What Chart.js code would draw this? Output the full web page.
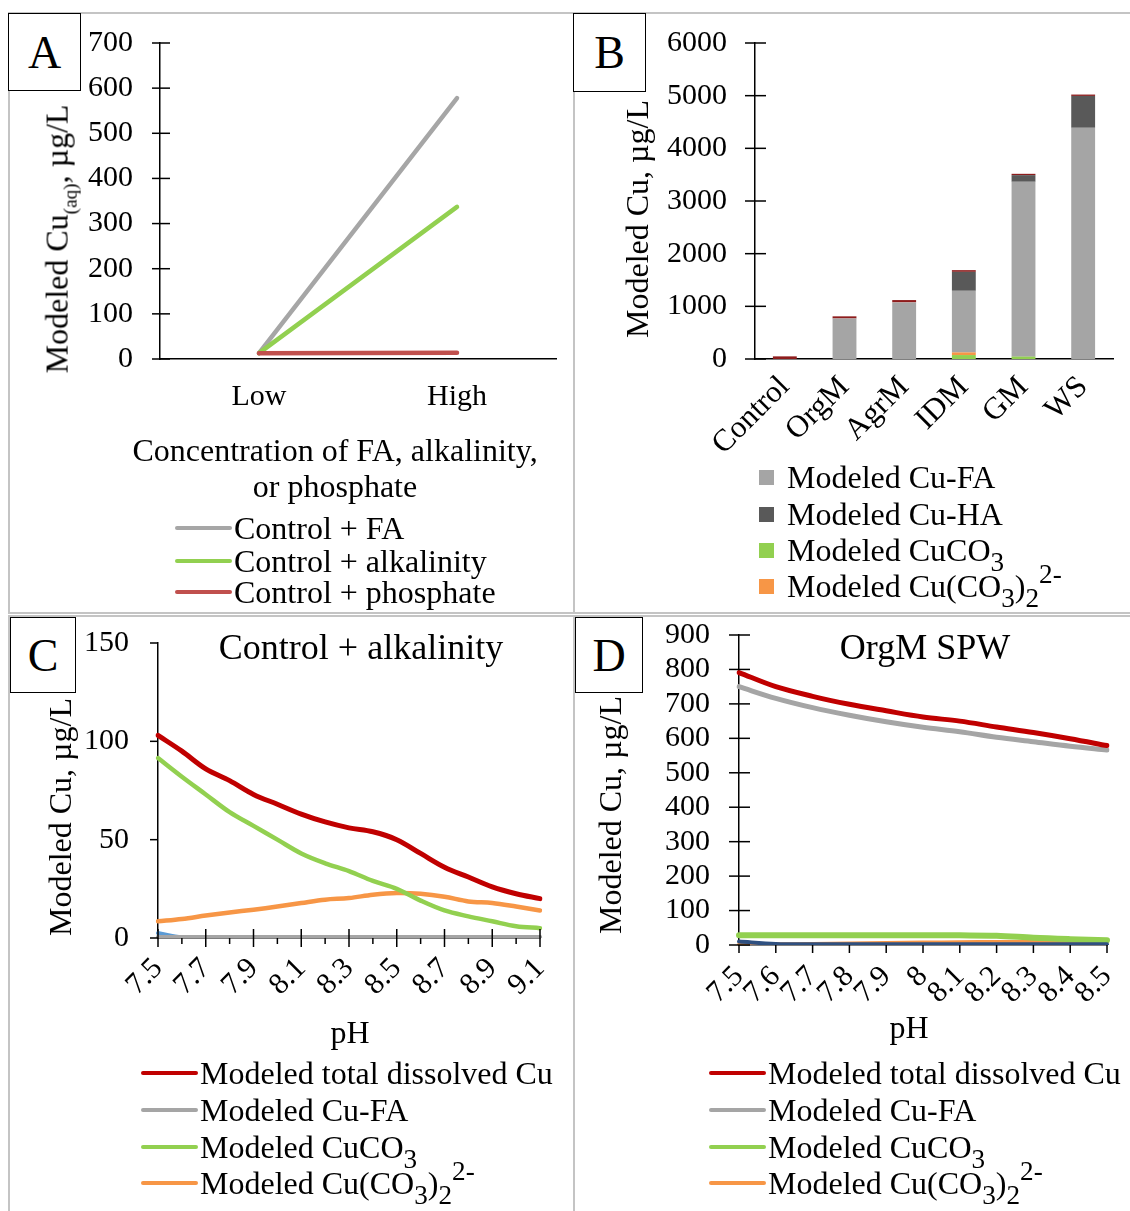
<!DOCTYPE html>
<html>
<head>
<meta charset="utf-8">
<title>Modeled Cu speciation</title>
<script src="https://cdn.jsdelivr.net/npm/chart.js@4.4.0/dist/chart.umd.min.js"></script>
<style>
  body { margin: 0; width: 1130px; height: 1211px; position: relative; overflow: hidden; background: #fff;
         font-family: "Liberation Serif", "Times New Roman", serif; color: #000; }
  .panel { position: absolute; border: 2px solid #c4c4c4; box-sizing: border-box; }
  canvas { position: absolute; }
  .tag { position: absolute; border: 1.5px solid #000; background: #fff; box-sizing: border-box;
         font-size: 46px; display: flex; align-items: center; justify-content: center; z-index: 2; }
  .ytitle { position: absolute; white-space: nowrap; font-size: 32px; line-height: 1;
            transform: translate(-50%, -50%) rotate(-90deg); }
  .ctext { position: absolute; white-space: nowrap; font-size: 32px; line-height: 1;
           transform: translate(-50%, -50%); }
  .title { font-size: 36px; }
  .row { position: absolute; white-space: nowrap; font-size: 32px; line-height: 1;
         transform: translateY(-50%); display: flex; align-items: center; }
  .row i { display: inline-block; }
  sub { font-size: 0.85em; vertical-align: -0.35em; line-height: 0; }
  sup { font-size: 0.85em; vertical-align: 0.5em; line-height: 0; }
  .aq { font-size: 0.6em; vertical-align: -0.45em; }
</style>
</head>
<body>

<div class="panel" style="left:8px;top:12px;width:567px;height:602px"></div>
<div class="panel" style="left:573px;top:12px;width:600px;height:602px"></div>
<div class="panel" style="left:8px;top:615px;width:567px;height:620px"></div>
<div class="panel" style="left:573px;top:615px;width:600px;height:620px"></div>

<canvas id="chartA" width="566" height="601" style="left:8px;top:12px"></canvas>
<canvas id="chartB" width="556" height="601" style="left:574px;top:12px"></canvas>
<canvas id="chartC" width="566" height="596" style="left:8px;top:615px"></canvas>
<canvas id="chartD" width="556" height="596" style="left:574px;top:615px"></canvas>

<div class="tag" style="left:8px;top:13px;width:73px;height:78px">A</div>
<div class="tag" style="left:573px;top:13px;width:73px;height:79px">B</div>
<div class="tag" style="left:10px;top:617px;width:66px;height:76px">C</div>
<div class="tag" style="left:575px;top:617px;width:68px;height:76px">D</div>

<div class="ytitle" style="left:60px;top:239px">Modeled Cu<span class="aq">(aq)</span>, µg/L</div>
<div class="ytitle" style="left:637px;top:219px">Modeled Cu, µg/L</div>
<div class="ytitle" style="left:60px;top:817px">Modeled Cu, µg/L</div>
<div class="ytitle" style="left:610px;top:815px">Modeled Cu, µg/L</div>

<div class="ctext" style="left:335px;top:450px">Concentration of FA, alkalinity,</div>
<div class="ctext" style="left:335px;top:486px">or phosphate</div>
<div class="ctext title" style="left:361px;top:647px">Control + alkalinity</div>
<div class="ctext title" style="left:925px;top:647px">OrgM SPW</div>
<div class="ctext" style="left:350px;top:1032px">pH</div>
<div class="ctext" style="left:909px;top:1027px">pH</div>

<script>
// ── Panel A: Cu(aq) vs concentration level ──
const A_LEVELS = ['Low', 'High'];
const A_FA     = [13, 578];
const A_ALK    = [13, 337];
const A_PHOS   = [13, 14];

// ── Panel B: stacked species by site ──
const B_SITES   = ['Control', 'OrgM', 'AgrM', 'IDM', 'GM', 'WS'];
const B_CUCO3   = [0, 0, 0, 75, 45, 0];
const B_CUCO3_2 = [0, 0, 0, 50, 0, 0];
const B_CUFA    = [0, 770, 1075, 1170, 3320, 4390];
const B_CUHA    = [0, 0, 0, 360, 126, 605];
const B_OTHER   = [50, 40, 44, 32, 25, 26];

// ── Panel C: Control + alkalinity vs pH ──
const C_PH      = ['7.5', '7.6', '7.7', '7.8', '7.9', '8.0', '8.1', '8.2', '8.3', '8.4', '8.5', '8.6', '8.7', '8.8', '8.9', '9.0', '9.1'];
const C_TOTAL   = [103, 95, 86, 80, 73, 68, 63, 59, 56, 54, 50, 43, 36, 31, 26, 22.5, 20];
const C_CUFA    = [0.4, 0.4, 0.4, 0.4, 0.4, 0.4, 0.4, 0.4, 0.4, 0.4, 0.4, 0.4, 0.4, 0.4, 0.4, 0.4, 0.4];
const C_CUCO3   = [91.5, 82, 73, 64, 57, 50, 43, 38, 34, 29, 25, 19, 14, 11, 8.5, 6, 5];
const C_CUCO3_2 = [8.5, 9.7, 11.4, 13, 14.4, 16, 17.8, 19.5, 20.3, 22, 22.9, 22.5, 21, 18.6, 17.8, 16, 14];
const C_FREE    = [2.5, 0.4, 0.2, 0.1, 0.1, 0.1, 0.1, 0.1, 0.1, 0.1, 0.1, 0.1, 0.1, 0.1, 0.1, 0.1, 0.1];

// ── Panel D: OrgM SPW vs pH ──
const D_PH      = ['7.5', '7.6', '7.7', '7.8', '7.9', '8', '8.1', '8.2', '8.3', '8.4', '8.5'];
const D_TOTAL   = [791, 750, 722, 699, 680, 662, 650, 633, 617, 599, 579];
const D_CUFA    = [750, 716, 689, 667, 648, 632, 619, 603, 590, 577, 566];
const D_CUCO3   = [28, 28, 28, 28, 28, 28, 28, 27, 21, 17, 14];
const D_CUCO3_2 = [1, 2, 3, 4, 6, 7, 8, 9, 9, 10, 10];
const D_FREE    = [10, 3, 2, 2, 2, 2, 2, 2, 2, 2, 2];

const FONT = '"Liberation Serif", "Times New Roman", serif';
Chart.defaults.font.family = FONT;
Chart.defaults.color = '#000';

// Excel-style tick marks (can cross the axis line)
const tickMarks = {
  id: 'tickMarks',
  afterDatasetsDraw(chart, args, opts) {
    const ctx = chart.ctx;
    ctx.save();
    ctx.strokeStyle = '#000';
    ctx.lineWidth = 1.5;
    ['x', 'y'].forEach(id => {
      const o = opts[id];
      if (!o) return;
      const s = chart.scales[id];
      s.ticks.forEach((t, i) => {
        const major = !o.every || i % o.every === 0;
        const inn = major ? o.in : (o.minorIn || 0);
        const out = major ? o.out : (o.minorOut || 0);
        const p = s.getPixelForTick(i);
        ctx.beginPath();
        if (id === 'y') { ctx.moveTo(s.right - out, p); ctx.lineTo(s.right + inn, p); }
        else { ctx.moveTo(p, s.top - inn); ctx.lineTo(p, s.top + out); }
        ctx.stroke();
      });
    });
    ctx.restore();
  }
};

function yAxis(max, step, width, pad, stacked) {
  return {
    min: 0, max, stacked: !!stacked,
    ticks: { stepSize: step, padding: pad, font: { size: 30 }, color: '#000', autoSkip: false,
             callback: v => String(v) },
    grid: { display: false, drawTicks: false },
    border: { color: '#000', width: 1.5 },
    afterFit: s => { s.width = width; s.paddingTop = 0; s.paddingBottom = 0; }
  };
}

function xAxis(height, pad, rotate, extra) {
  return Object.assign({
    ticks: { padding: pad, font: { size: 30 }, color: '#000', autoSkip: false,
             minRotation: rotate, maxRotation: rotate },
    grid: { display: false, drawTicks: false },
    border: { color: '#000', width: 1.5 },
    afterFit: s => { s.height = height; s.paddingLeft = 0; s.paddingRight = 0; }
  }, extra || {});
}

function baseOptions(padRight, padTop, marks) {
  return {
    responsive: false, animation: false, devicePixelRatio: 1,
    layout: { padding: { left: 0, right: padRight, top: padTop, bottom: 0 } },
    plugins: { legend: { display: false }, tooltip: { enabled: false }, tickMarks: marks },
    elements: { point: { radius: 0 } }
  };
}

function line(label, data, color, width, tension) {
  return { label, data, borderColor: color, backgroundColor: color, borderWidth: width,
           tension: tension, pointRadius: 0, borderCapStyle: 'round', borderJoinStyle: 'round', fill: false };
}

//  Panel A 
const optsA = baseOptions(18, 31, { y: { out: 8, in: 10 } });
optsA.scales = {
  x: xAxis(254, 20, 0, { offset: true }),
  y: yAxis(700, 100, 152, 27)
};
const chartA = new Chart(document.getElementById('chartA'), {
  type: 'line',
  plugins: [tickMarks],
  data: {
    labels: A_LEVELS,
    datasets: [
      line('Control + phosphate', A_PHOS, '#c0504d', 4.5, 0),
      line('Control + alkalinity', A_ALK, '#92d050', 4.5, 0),
      line('Control + FA', A_FA, '#a6a6a6', 4.5, 0)
    ]
  },
  options: optsA
});

//  Panel B 
const optsB = baseOptions(17, 31, { y: { out: 10, in: 11 } });
optsB.scales = {
  x: xAxis(254, 10, 45, { stacked: true }),
  y: yAxis(6000, 1000, 181, 28, true)
};
optsB.scales.x.ticks.font = { size: 31 };
function bar(label, data, color) {
  return { label, data, backgroundColor: color, borderWidth: 0, barPercentage: 0.4, categoryPercentage: 1 };
}
const chartB = new Chart(document.getElementById('chartB'), {
  type: 'bar',
  plugins: [tickMarks],
  data: {
    labels: B_SITES,
    datasets: [
      bar('Modeled CuCO3', B_CUCO3, '#92d050'),
      bar('Modeled Cu(CO3)2 2-', B_CUCO3_2, '#f79646'),
      bar('Modeled Cu-FA', B_CUFA, '#a5a5a5'),
      bar('Modeled Cu-HA', B_CUHA, '#595959'),
      bar('Other', B_OTHER, '#8e1c1c')
    ]
  },
  options: optsB
});

//  Panel C 
const optsC = baseOptions(34, 28, { y: { out: 8, in: 0 }, x: { every: 2, out: 9, in: 9, minorOut: 6 } });
optsC.scales = {
  x: xAxis(273, 13, 45),
  y: yAxis(150, 50, 150, 29)
};
optsC.scales.x.ticks.callback = function (v, i) { return i % 2 === 0 ? this.getLabelForValue(v) : ''; };
const chartC = new Chart(document.getElementById('chartC'), {
  type: 'line',
  plugins: [tickMarks],
  data: {
    labels: C_PH,
    datasets: [
      line('Modeled total dissolved Cu', C_TOTAL, '#c00000', 5, 0.35),
      line('Modeled Cu-FA', C_CUFA, '#a5a5a5', 4.5, 0.35),
      line('Modeled Cu free', C_FREE, '#5b9bd5', 4, 0.35),
      line('Modeled CuCO3', C_CUCO3, '#92d050', 4.5, 0.35),
      line('Modeled Cu(CO3)2 2-', C_CUCO3_2, '#f79646', 4.5, 0.35)
    ]
  },
  options: optsC
});

//  Panel D 
const optsD = baseOptions(23, 20, { y: { out: 10, in: 11 }, x: { out: 8, in: 0 } });
optsD.scales = {
  x: xAxis(266, 14, 45),
  y: yAxis(900, 100, 165, 29)
};
const chartD = new Chart(document.getElementById('chartD'), {
  type: 'line',
  plugins: [tickMarks],
  data: {
    labels: D_PH,
    datasets: [
      line('Modeled total dissolved Cu', D_TOTAL, '#c00000', 5, 0.35),
      line('Modeled Cu-FA', D_CUFA, '#a5a5a5', 5, 0.35),
      line('Modeled Cu free', D_FREE, '#2f5080', 4, 0.35),
      line('Modeled CuCO3', D_CUCO3, '#92d050', 6, 0.35),
      line('Modeled Cu(CO3)2 2-', D_CUCO3_2, '#f79646', 4, 0.35)
    ]
  },
  options: optsD
});

//  HTML legends (rich text for sub/superscripts) 
const CO3_HTML  = 'Modeled CuCO<sub>3</sub>';
const CO32_HTML = 'Modeled Cu(CO<sub>3</sub>)<sub>2</sub><sup>2-</sup>';

function buildLegend(chart, entries, x, rows, swatch) {
  entries.forEach((e, k) => {
    const ds = chart.data.datasets[e.ds];
    const color = ds.borderColor || ds.backgroundColor;
    const row = document.createElement('div');
    row.className = 'row';
    row.style.left = x + 'px';
    row.style.top = rows[k] + 'px';
    const mark = swatch === 'square'
      ? `<i style="width:15px;height:15px;background:${color};margin-right:13px"></i>`
      : `<i style="width:57px;height:4.5px;background:${color};border-radius:2px;margin-right:2px"></i>`;
    row.innerHTML = mark + `<span>${e.html}</span>`;
    document.body.appendChild(row);
  });
}

buildLegend(chartA, [
  { ds: 2, html: 'Control + FA' },
  { ds: 1, html: 'Control + alkalinity' },
  { ds: 0, html: 'Control + phosphate' }
], 175, [528, 561, 592], 'line');

buildLegend(chartB, [
  { ds: 2, html: 'Modeled Cu-FA' },
  { ds: 3, html: 'Modeled Cu-HA' },
  { ds: 0, html: CO3_HTML },
  { ds: 1, html: CO32_HTML }
], 759, [477, 514, 550, 586], 'square');

const SPECIES_ENTRIES = [
  { ds: 0, html: 'Modeled total dissolved Cu' },
  { ds: 1, html: 'Modeled Cu-FA' },
  { ds: 3, html: CO3_HTML },
  { ds: 4, html: CO32_HTML }
];
buildLegend(chartC, SPECIES_ENTRIES, 141, [1073, 1110, 1147, 1183], 'line');
buildLegend(chartD, SPECIES_ENTRIES, 709, [1073, 1110, 1147, 1183], 'line');
</script>
</body>
</html>
